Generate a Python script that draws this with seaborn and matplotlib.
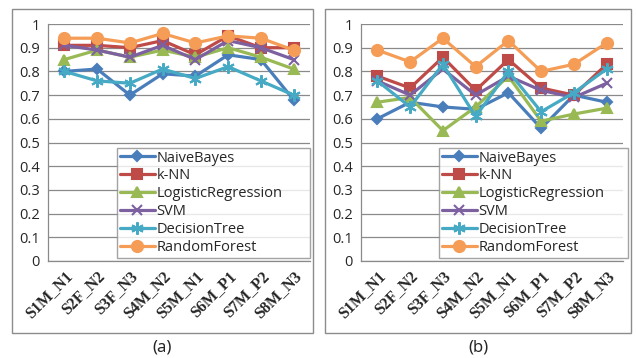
import matplotlib
matplotlib.use('Agg')
import matplotlib.pyplot as plt
import seaborn as sns
import pandas as pd
from matplotlib.patches import Rectangle

subjects = ['S1M_N1', 'S2F_N2', 'S3F_N3', 'S4M_N2', 'S5M_N1', 'S6M_P1', 'S7M_P2', 'S8M_N3']
models = ['NaiveBayes', 'k-NN', 'LogisticRegression', 'SVM', 'DecisionTree', 'RandomForest']

# panel (a)
a_naive = [0.80, 0.81, 0.70, 0.79, 0.78, 0.87, 0.85, 0.68]
a_knn = [0.91, 0.91, 0.90, 0.93, 0.87, 0.95, 0.90, 0.90]
a_logreg = [0.85, 0.89, 0.86, 0.89, 0.86, 0.90, 0.86, 0.81]
a_svm = [0.91, 0.89, 0.86, 0.91, 0.85, 0.93, 0.90, 0.85]
a_tree = [0.80, 0.76, 0.75, 0.81, 0.77, 0.82, 0.76, 0.70]
a_forest = [0.94, 0.94, 0.92, 0.96, 0.92, 0.95, 0.94, 0.89]

# panel (b)
b_naive = [0.60, 0.67, 0.65, 0.64, 0.71, 0.56, 0.70, 0.67]
b_knn = [0.78, 0.73, 0.86, 0.72, 0.85, 0.73, 0.70, 0.83]
b_logreg = [0.67, 0.69, 0.55, 0.65, 0.78, 0.59, 0.62, 0.645]
b_svm = [0.76, 0.70, 0.81, 0.70, 0.78, 0.72, 0.69, 0.75]
b_tree = [0.76, 0.65, 0.83, 0.61, 0.80, 0.63, 0.71, 0.81]
b_forest = [0.89, 0.84, 0.94, 0.82, 0.93, 0.80, 0.83, 0.92]

colors = ['#4A7EBB', '#BE4B48', '#98B954', '#7D60A0', '#46AAC5', '#F59D56']
markers = ['D', 's', '^', 'x', (6, 2, 0), 'o']
msizes = [5, 7, 7, 7, 9, 8]


def long_df(series):
    rows = []
    for m, vals in zip(models, series):
        for i, (s, v) in enumerate(zip(subjects, vals)):
            rows.append({'subject': s, 'pos': i, 'model': m, 'acc': v})
    return pd.DataFrame(rows)


sns.set_style('white')
plt.rcParams['font.family'] = ['Open Sans', 'DejaVu Sans']

fig = plt.figure(figsize=(6.36, 3.58), dpi=100)

panels = [
    (long_df([a_naive, a_knn, a_logreg, a_svm, a_tree, a_forest]), [48, 310], '(a)', [12, 313], [117, 310]),
    (long_df([b_naive, b_knn, b_logreg, b_svm, b_tree, b_forest]), [361, 623], '(b)', [325, 631], [439, 628]),
]

W, H = 636, 358
for df, (x0, x1), cap, (bx0, bx1), (lx0, lx1) in panels:
    # outer box
    fig.add_artist(Rectangle((bx0 / W, 1 - 333 / H), (bx1 - bx0) / W, (333 - 9) / H,
                             transform=fig.transFigure, fill=False, ec='#8c8c8c', lw=1))
    ax = fig.add_axes([x0 / W, 1 - 261 / H, (x1 - x0) / W, (261 - 24) / H])
    for k, m in enumerate(models):
        sub = df[df['model'] == m]
        sns.lineplot(data=sub, x='pos', y='acc', ax=ax, color=colors[k], marker=markers[k],
                     markersize=msizes[k], markeredgecolor=colors[k], markeredgewidth=1.5,
                     linewidth=2.3, label=m)
    ax.set_xlim(-0.5, 7.5)
    ax.set_ylim(0, 1)
    ax.set_yticks([i / 10 for i in range(11)])
    ax.set_yticklabels(['0', '0.1', '0.2', '0.3', '0.4', '0.5', '0.6', '0.7', '0.8', '0.9', '1'], fontsize=10.5)
    ax.yaxis.grid(True, color='#8a8a8a', lw=0.9)
    ax.set_axisbelow(True)
    ax.set_xticks(range(8))
    ax.set_xticklabels(subjects, rotation=45, ha='right', rotation_mode='anchor',
                       family='Liberation Serif', fontweight='bold', fontsize=11.5)
    ax.set_xticks([i - 0.5 for i in range(9)], minor=True)
    ax.tick_params(axis='x', which='major', length=0, pad=5)
    ax.tick_params(axis='x', which='minor', length=4, color='#8a8a8a', direction='out')
    ax.tick_params(axis='y', length=4, color='#8a8a8a', direction='out', pad=2)
    ax.set_xlabel('')
    ax.set_ylabel('')
    for s in ['top', 'right']:
        ax.spines[s].set_visible(False)
    for s in ['left', 'bottom']:
        ax.spines[s].set_color('#8a8a8a')
        ax.spines[s].set_linewidth(0.9)
    leg = ax.legend(loc='lower left',
                    bbox_to_anchor=((lx0 - x0) / (x1 - x0), (261 - 258) / 237,
                                    (lx1 - lx0) / (x1 - x0), (258 - 148) / 237),
                    mode='expand', frameon=True, fancybox=False, fontsize=10.5,
                    handlelength=2.4, handletextpad=0.1, labelspacing=0.2,
                    borderaxespad=0, borderpad=0.2)
    leg.get_frame().set_edgecolor('#8c8c8c')
    leg.get_frame().set_linewidth(1)
    fig.text(((bx0 + bx1) / 2) / W, 1 - 348 / H, cap, ha='center', va='center', fontsize=12,
             family='Noto Sans')

fig.savefig('out.png', dpi=100)
